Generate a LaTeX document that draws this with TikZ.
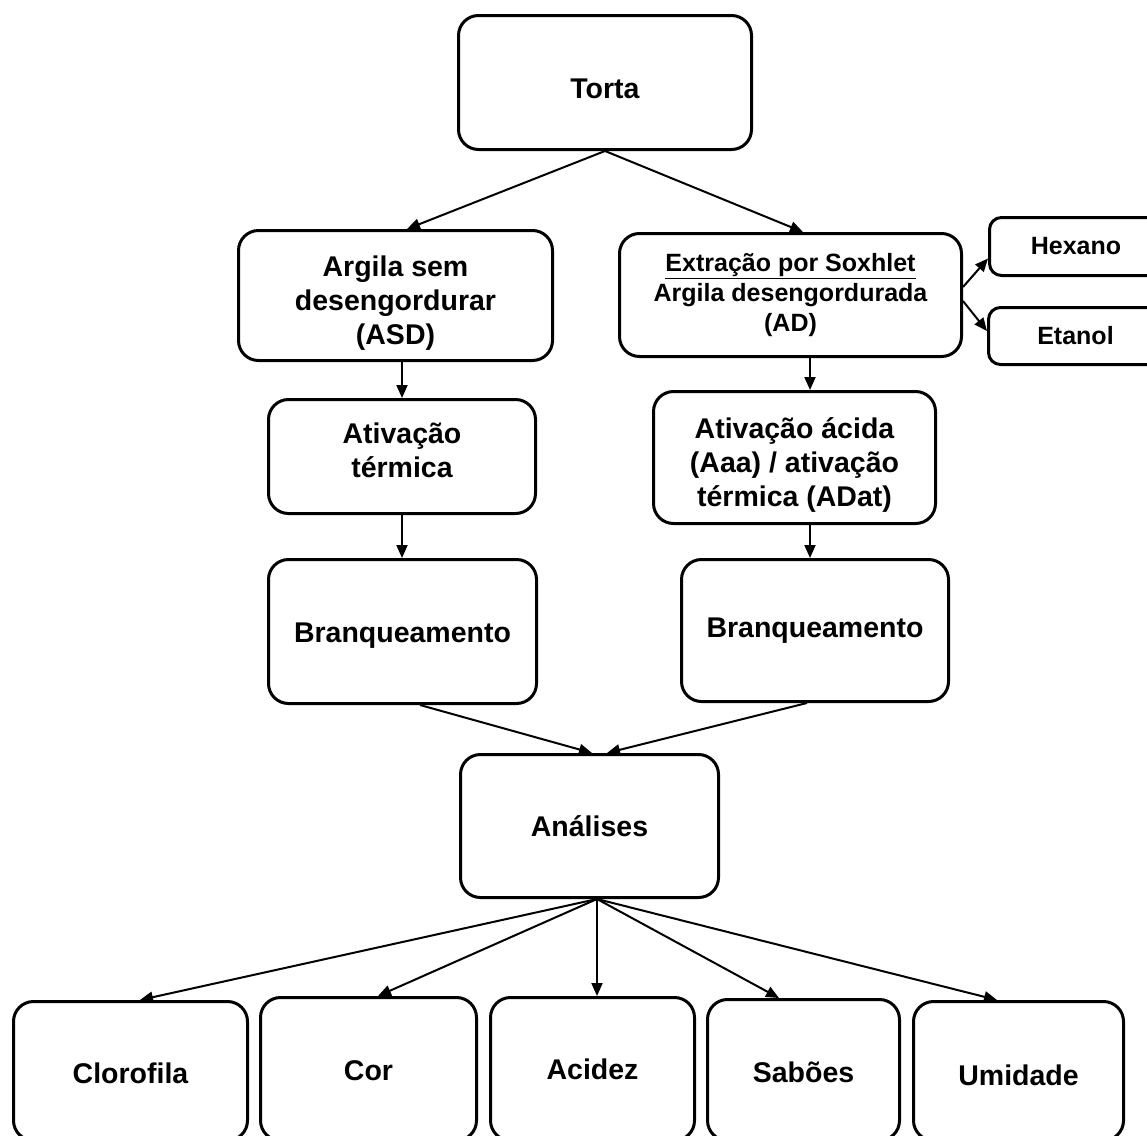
\documentclass[tikz,border=0pt]{standalone}
\usepackage{fontspec}
\setmainfont{Liberation Sans}
\usetikzlibrary{arrows.meta}
\newcommand{\shiftdown}[2]{\raisebox{-#1}[\height][\depth]{\begin{tabular}{@{}c@{}}#2\end{tabular}}}
\begin{document}
\begin{tikzpicture}[x=1pt,y=-1pt,
  box/.style={draw, line width=3pt, rounded corners=20pt, align=center, inner sep=0pt,
    font=\bfseries\fontsize{28.5}{34}\selectfont},
  sbox/.style={box, font=\bfseries\fontsize{25}{30}\selectfont},
  smallbox/.style={box, rounded corners=12pt, font=\bfseries\fontsize{25}{30}\selectfont},
  arr/.style={-{Triangle[length=13pt,width=11pt]}, line width=2pt}]
\useasboundingbox (0,0) rectangle (1147,1135);
\clip (0,0) rectangle (1147,1135);
% boxes
\node[box, minimum width=293, minimum height=134] (torta) at (605,82.5) {\shiftdown{9pt}{Torta}};
\node[box, minimum width=314, minimum height=130] (asd) at (395.5,295.5) {\shiftdown{8pt}{Argila sem\\desengordurar\\(ASD)}};
\node[sbox, minimum width=342, minimum height=123] (ext) at (790.5,295) {\underline{Extração por Soxhlet}\\Argila desengordurada\\(AD)};
\node[smallbox, minimum width=173, minimum height=58] (hex) at (1076,246.5) {Hexano};
\node[smallbox, minimum width=174, minimum height=57] (eta) at (1075.5,336) {Etanol};
\node[box, minimum width=267, minimum height=114] (ativ) at (402,456.5) {\shiftdown{-3pt}{Ativação\\térmica}};
\node[box, minimum width=282, minimum height=132] (acid) at (794.5,457.5) {\shiftdown{8.5pt}{Ativação ácida\\(Aaa) / ativação\\térmica (ADat)}};
\node[box, minimum width=268, minimum height=144] (brl) at (402.5,631.5) {\shiftdown{4pt}{Branqueamento}};
\node[box, minimum width=267, minimum height=142] (brr) at (815,630.5) {Branqueamento};
\node[box, minimum width=258, minimum height=143] (ana) at (589.5,826) {Análises};
\node[box, minimum width=234, minimum height=139] (clo) at (130.5,1071) {\shiftdown{6pt}{Clorofila}};
\node[box, minimum width=216, minimum height=143] (cor) at (368.5,1069) {\shiftdown{5pt}{Cor}};
\node[box, minimum width=204, minimum height=143] (aci) at (592.5,1069) {Acidez};
\node[box, minimum width=192, minimum height=141] (sab) at (803.5,1070) {\shiftdown{6pt}{Sabões}};
\node[box, minimum width=210, minimum height=139] (umi) at (1018.5,1071) {\shiftdown{8pt}{Umidade}};
% connectors
\draw[arr] (torta.south) -- ([xshift=11.5pt]asd.north);
\draw[arr] (torta.south) -- ([xshift=12.5pt]ext.north);
\draw[arr] (ativ.north |- asd.south) -- (ativ.north);
\draw[arr] (ativ.south) -- (ativ.south |- brl.north);
\draw[arr] ([xshift=19.5pt]ext.south) -- ([xshift=15.5pt]acid.north);
\draw[arr] ([xshift=15.5pt]acid.south) -- ([xshift=-5pt]brr.north);
\draw[arr] ([yshift=8pt]ext.east) -- ([yshift=-12pt]hex.west);
\draw[arr] ([yshift=-6pt]ext.east) -- ([yshift=5pt]eta.west);
\draw[arr] ([xshift=17.5pt]brl.south) -- ([xshift=2.5pt]ana.north);
\draw[arr] ([xshift=-8pt]brr.south) -- ([xshift=17.5pt]ana.north);
\draw[arr] ([xshift=7.5pt]ana.south) -- ([xshift=9.5pt]clo.north);
\draw[arr] ([xshift=7.5pt]ana.south) -- ([xshift=9.5pt]cor.north);
\draw[arr] ([xshift=7.5pt]ana.south) -- ([xshift=4.5pt]aci.north);
\draw[arr] ([xshift=7.5pt]ana.south) -- ([xshift=-24.5pt]sab.north);
\draw[arr] ([xshift=7.5pt]ana.south) -- ([xshift=-21.5pt]umi.north);
\end{tikzpicture}
\end{document}
